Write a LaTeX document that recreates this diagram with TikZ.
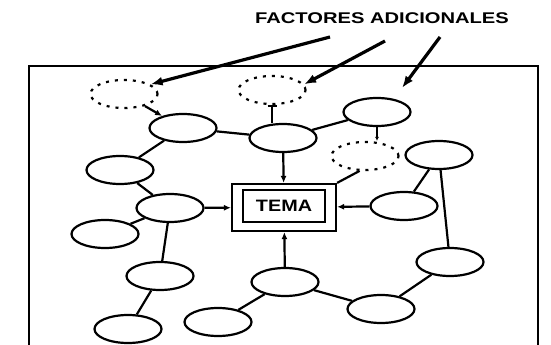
\documentclass[tikz,border=0pt]{standalone}
\usepackage{fontspec}
\setmainfont{Liberation Sans}
\usetikzlibrary{shapes.geometric,arrows.meta}
\tikzset{
    factor/.style = {
        ellipse,
        draw,
        line width   = 2.2pt,
        minimum width  = 67pt,
        minimum height = 28pt,
        inner sep = 0pt,
    },
    extra/.style = {
        factor,
        dash pattern = on 3pt off 6pt,
    },
    link/.style = {
        line width = 2.2pt,
    },
    pointer/.style = {
        line width = 3.2pt,
        -{Latex[length=12pt,width=9pt]},
    }
}

\begin{document}
\begin{tikzpicture}[x=1pt,y=-1pt]
  \useasboundingbox (0,0) rectangle (551,345);

  % Marco
  \draw[line width=2.2pt] (29,345) -- (29,66) -- (538,66) -- (538,345);

  % Tema
  \node[draw,line width=2.2pt,minimum width=104pt,minimum height=47pt] (TemaMarco) at (284,207.5) {};
  \node[draw,line width=2.8pt,minimum width=82pt,minimum height=32pt,inner sep=0pt,
        font=\fontsize{16.5}{18}\selectfont\bfseries] (Tema) at (284,206) {\scalebox{1.2}[1]{TEMA}};

  % Factores adicionales
  \node[extra] (ExtraA) at (124,94) {};
  \node[extra] (ExtraB) at (272,90) {};
  \node[extra] (ExtraC) at (365,156) {};

  % Factores
  \node[factor] (FactorA) at (183,128) {};
  \node[factor] (FactorB) at (120,170) {};
  \node[factor] (FactorC) at (283,138) {};
  \node[factor] (FactorD) at (377,112) {};
  \node[factor] (FactorE) at (439,155) {};
  \node[factor] (FactorF) at (404,206) {};
  \node[factor] (FactorG) at (450,262) {};
  \node[factor] (FactorH) at (381,309) {};
  \node[factor] (FactorI) at (285,282) {};
  \node[factor] (FactorJ) at (218,322) {};
  \node[factor] (FactorK) at (170,208) {};
  \node[factor] (FactorL) at (105,234) {};
  \node[factor] (FactorM) at (160,276) {};
  \node[factor] (FactorN) at (128,329) {};

  \draw[link] (FactorA) -- (FactorC);
  \draw[link] (FactorC) -- (FactorD);
  \draw[link] (FactorA) -- (FactorB);
  \draw[link] (FactorB) -- (FactorK);
  \draw[link] (FactorK) -- (FactorL);
  \draw[link] (FactorK) -- (FactorM);
  \draw[link] (FactorM) -- (FactorN);
  \draw[link] (FactorI) -- (FactorJ);
  \draw[link] (FactorI) -- (FactorH);
  \draw[link] (FactorH) -- (FactorG);
  \draw[link] (FactorG) -- (FactorE);
  \draw[link] (FactorE) -- (FactorF);

  \draw[link,-{Latex[length=7pt,width=6pt]}] (FactorC) -- (TemaMarco);
  \draw[link,-{Latex[length=7pt,width=6pt]}] (FactorK) -- (TemaMarco);
  \draw[link,-{Latex[length=7pt,width=6pt]}] (FactorF) -- (TemaMarco);
  \draw[link,-{Latex[length=7pt,width=6pt]}] (FactorI) -- (TemaMarco);

  \draw[link,-{Latex[length=7pt,width=6pt]}] (ExtraA) -- (FactorA);
  \draw[link,{Bar[width=9pt]}-] (ExtraB.south) -- (ExtraB.south |- FactorC.north);
  \draw[link,-{Latex[length=4pt,width=4pt]}] (FactorD.south) -- (FactorD.south |- ExtraC.north);
  \draw[link] (ExtraC.250) -- (TemaMarco.north east);

  % Titulo
  \node[font=\fontsize{15.5}{18}\selectfont\bfseries] (Titulo) at (382,18) {\scalebox{1.3}[1]{FACTORES ADICIONALES}};

  \coordinate (InicioA) at (330,37);
  \coordinate (InicioB) at (385,41);
  \coordinate (InicioC) at (440,37);
  \coordinate (PuntaC) at (402,88);

  \draw[pointer] (InicioA) -- (ExtraA.20);
  \draw[pointer] (InicioB) -- (ExtraB.10);
  \draw[pointer] (InicioC) -- (PuntaC);

\end{tikzpicture}
\end{document}
